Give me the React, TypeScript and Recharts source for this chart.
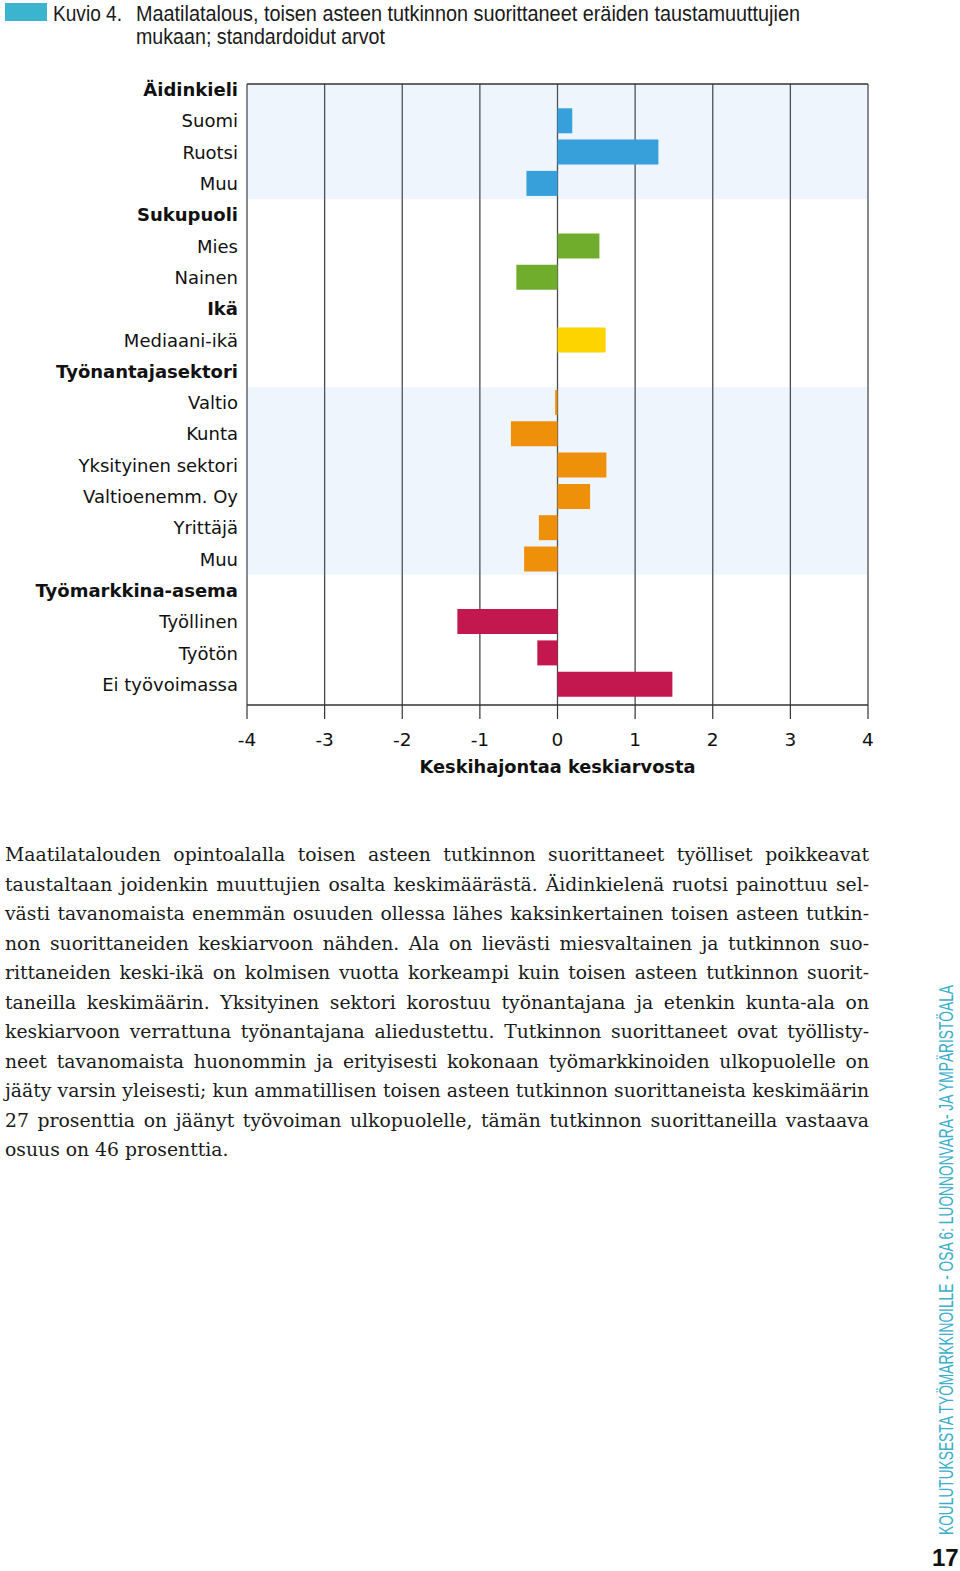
import React from 'react';
import {
  BarChart,
  Bar,
  XAxis,
  YAxis,
  CartesianGrid,
  ReferenceArea,
  Cell,
} from 'recharts';

// rows of the chart, top to bottom (group headers have no value)
const labels = [
  'Äidinkieli', 'Suomi', 'Ruotsi', 'Muu',
  'Sukupuoli', 'Mies', 'Nainen',
  'Ikä', 'Mediaani-ikä',
  'Työnantajasektori', 'Valtio', 'Kunta', 'Yksityinen sektori', 'Valtioenemm. Oy', 'Yrittäjä', 'Muu',
  'Työmarkkina-asema', 'Työllinen', 'Työtön', 'Ei työvoimassa',
];
const values: (number | null)[] = [
  null, 0.19, 1.3, -0.4,
  null, 0.54, -0.53,
  null, 0.62,
  null, -0.03, -0.6, 0.63, 0.42, -0.24, -0.43,
  null, -1.29, -0.26, 1.48,
];
const groupOf = [0, 0, 0, 0, 1, 1, 1, 2, 2, 3, 3, 3, 3, 3, 3, 3, 4, 4, 4, 4];
const isHeader = values.map((v) => v === null);
const xTicks = [-4, -3, -2, -1, 0, 1, 2, 3, 4];

const GROUP_COLORS = ['#379fd9', '#71ad2d', '#fdd300', '#ef900b', '#c3174f'];
// light blue band, translucent so the grid lines stay visible through it
const BAND = '#559be1';

const data = labels.map((name, i) => ({ key: String(i), name, value: values[i] }));

const paragraph = [
  'Maatilatalouden opintoalalla toisen asteen tutkinnon suorittaneet työlliset poikkeavat',
  'taustaltaan joidenkin muuttujien osalta keskimäärästä. Äidinkielenä ruotsi painottuu sel-',
  'västi tavanomaista enemmän osuuden ollessa lähes kaksinkertainen toisen asteen tutkin-',
  'non suorittaneiden keskiarvoon nähden. Ala on lievästi miesvaltainen ja tutkinnon suo-',
  'rittaneiden keski-ikä on kolmisen vuotta korkeampi kuin toisen asteen tutkinnon suorit-',
  'taneilla keskimäärin. Yksityinen sektori korostuu työnantajana ja etenkin kunta-ala on',
  'keskiarvoon verrattuna työnantajana aliedustettu. Tutkinnon suorittaneet ovat työllisty-',
  'neet tavanomaista huonommin ja erityisesti kokonaan työmarkkinoiden ulkopuolelle on',
  'jääty varsin yleisesti; kun ammatillisen toisen asteen tutkinnon suorittaneista keskimäärin',
  '27 prosenttia on jäänyt työvoiman ulkopuolelle, tämän tutkinnon suorittaneilla vastaava',
  'osuus on 46 prosenttia.',
];

const SANS = '"DejaVu Sans", Verdana, sans-serif';
const NARROW = '"Liberation Sans", Arial, sans-serif';

const RowTick = ({ x, y, payload }: any) => {
  const i = Number(payload.value);
  return (
    <text
      x={x}
      y={y}
      dy="0.36em"
      textAnchor="end"
      fontFamily={SANS}
      fontSize={18}
      fontWeight={isHeader[i] ? 700 : 400}
      fill="#111"
    >
      {labels[i]}
    </text>
  );
};

export default function App() {
  return (
    <div style={{ position: 'absolute', left: 0, top: 0, width: 960, height: 1571, background: '#fff' }}>
      {/* figure caption */}
      <div style={{ position: 'absolute', left: 5, top: 3, width: 42, height: 18, background: '#3ab4cf' }} />
      <svg style={{ position: 'absolute', left: 0, top: 0 }} width={960} height={60}>
        <g fontFamily={NARROW} fontSize={22} fill="#1a1a1a">
          <text x={53} y={21} textLength={69} lengthAdjust="spacingAndGlyphs">Kuvio 4.</text>
          <text x={136} y={21} textLength={664} lengthAdjust="spacingAndGlyphs">
            Maatilatalous, toisen asteen tutkinnon suorittaneet eräiden taustamuuttujien
          </text>
          <text x={136} y={44} textLength={249} lengthAdjust="spacingAndGlyphs">
            mukaan; standardoidut arvot
          </text>
        </g>
      </svg>

      <div style={{ position: 'absolute', left: 0, top: 0 }}>
        <BarChart
          width={960}
          height={790}
          data={data}
          layout="vertical"
          margin={{ top: 80, right: 92, bottom: 45, left: 0 }}
        >
          <CartesianGrid vertical horizontal={false} stroke="#4a4a4a" strokeWidth={1.3} />
          <ReferenceArea y1="0" y2="3" fill={BAND} fillOpacity={0.1} stroke="none" ifOverflow="hidden" />
          <ReferenceArea y1="10" y2="15" fill={BAND} fillOpacity={0.1} stroke="none" ifOverflow="hidden" />
          <XAxis
            type="number"
            domain={[-4, 4]}
            ticks={xTicks}
            interval={0}
            height={40}
            tickSize={14}
            tickMargin={14}
            axisLine={{ stroke: '#333', strokeWidth: 1.5 }}
            tickLine={{ stroke: '#333', strokeWidth: 1.2 }}
            tick={{ fontFamily: SANS, fontSize: 18.5, fill: '#111' }}
            label={{
              value: 'Keskihajontaa keskiarvosta',
              position: 'bottom',
              offset: 15,
              style: { fontFamily: SANS, fontSize: 17.8, fontWeight: 700, fill: '#111' },
            }}
          />
          {/* top edge of the plot frame */}
          <XAxis
            xAxisId="top"
            orientation="top"
            type="number"
            domain={[-4, 4]}
            ticks={xTicks}
            tick={false}
            tickLine={false}
            height={4}
            axisLine={{ stroke: '#333', strokeWidth: 1.5 }}
          />
          <YAxis
            type="category"
            dataKey="key"
            width={247}
            interval={0}
            padding={{ top: -10, bottom: 5 }}
            tickSize={0}
            tickMargin={9}
            axisLine={false}
            tickLine={false}
            tick={<RowTick />}
          />
          <Bar dataKey="value" barSize={25} isAnimationActive={false}>
            {data.map((d, i) => (
              <Cell key={d.key} fill={GROUP_COLORS[groupOf[i]]} />
            ))}
          </Bar>
        </BarChart>
      </div>

      {/* body text */}
      <div
        style={{
          position: 'absolute',
          left: 5,
          top: 840,
          width: 864,
          fontFamily: '"DejaVu Serif", Georgia, serif',
          fontSize: 18.8,
          lineHeight: '29.5px',
          color: '#1a1a1a',
        }}
      >
        {paragraph.map((line, i) => (
          <div
            key={i}
            style={{
              whiteSpace: 'nowrap',
              textAlign: i === paragraph.length - 1 ? 'left' : 'justify',
              textAlignLast: i === paragraph.length - 1 ? 'left' : 'justify',
            }}
          >
            {line}
          </div>
        ))}
      </div>

      {/* running footer */}
      <svg style={{ position: 'absolute', left: 920, top: 560 }} width={40} height={1011}>
        <text
          transform="translate(33 975) rotate(-90)"
          fontFamily={NARROW}
          fontSize={19.5}
          fill="#3aaecb"
          textLength={550}
          lengthAdjust="spacingAndGlyphs"
        >
          KOULUTUKSESTA TYÖMARKKINOILLE - OSA 6: LUONNONVARA- JA YMPÄRISTÖALA
        </text>
        <text x={12} y={1006} fontFamily={NARROW} fontWeight={700} fontSize={24} fill="#111">
          17
        </text>
      </svg>
    </div>
  );
}
